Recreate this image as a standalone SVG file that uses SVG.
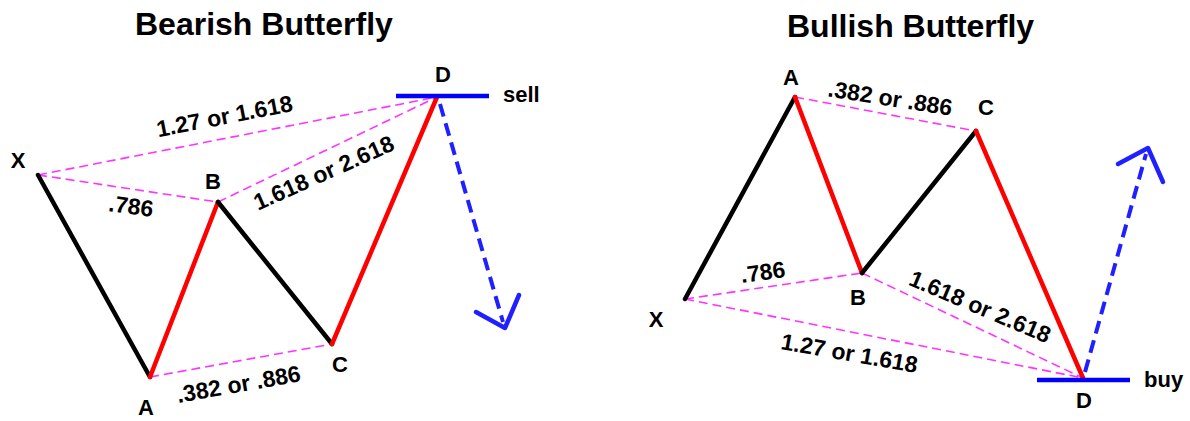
<svg xmlns="http://www.w3.org/2000/svg" width="1190" height="421" viewBox="0 0 1190 421">
<style>
text{font-family:"Liberation Sans",Arial,sans-serif;font-weight:bold;fill:#000}
.title{font-size:32px}
.lbl{font-size:22px;text-anchor:middle}
.ratio{font-size:23px;text-anchor:middle}
.side{font-size:22px}
.leg{fill:none;stroke-width:4.5;stroke-linecap:round;stroke-linejoin:round}
.blk{stroke:#000}
.red{stroke:#ff0000}
.fib{fill:none;stroke:#ff33ff;stroke-width:1.6;stroke-dasharray:9,5}
.lvl{fill:none;stroke:#0000ff;stroke-width:4.5}
.mv{fill:none;stroke:#1f1fff;stroke-width:4;stroke-dasharray:13,7}
.head{fill:none;stroke:#1f1fff;stroke-width:4.5;stroke-linecap:round;stroke-linejoin:round}
</style>
<rect width="1190" height="421" fill="#fff"/>
<g id="connectors">
<!-- bearish -->
<line class="fib" x1="38" y1="175" x2="437" y2="97"/>
<line class="fib" x1="38" y1="175" x2="218" y2="202"/>
<line class="fib" x1="218" y1="202" x2="437" y2="97"/>
<line class="fib" x1="150" y1="377" x2="332" y2="344"/>
<line class="leg blk" x1="38" y1="175" x2="150" y2="377"/>
<line class="leg red" x1="150" y1="377" x2="218" y2="202"/>
<line class="leg blk" x1="218" y1="202" x2="332" y2="344"/>
<line class="leg red" x1="332" y1="344" x2="437" y2="97"/>
<line class="mv" x1="440" y1="104" x2="503" y2="322"/>
<polyline class="head" points="476,312 505,328 519,295"/>
<!-- bullish -->
<line class="fib" x1="685" y1="299" x2="862" y2="273"/>
<line class="fib" x1="685" y1="299" x2="1083" y2="378"/>
<line class="fib" x1="862" y1="273" x2="1083" y2="378"/>
<line class="fib" x1="795" y1="97" x2="976" y2="131"/>
<line class="leg blk" x1="685" y1="299" x2="795" y2="97"/>
<line class="leg red" x1="795" y1="97" x2="862" y2="273"/>
<line class="leg blk" x1="862" y1="273" x2="976" y2="131"/>
<line class="leg red" x1="976" y1="131" x2="1083" y2="378"/>
<line class="mv" x1="1085" y1="372" x2="1146" y2="154"/>
<polyline class="head" points="1118,164 1148,148 1163,182"/>
</g>
<g id="title-bearish"><text class="title" x="135" y="35">Bearish Butterfly</text></g>
<g id="title-bullish"><text class="title" x="787" y="37">Bullish Butterfly</text></g>
<g id="bear-X"><text class="lbl" x="18" y="168">X</text></g>
<g id="bear-A"><text class="lbl" x="146" y="415">A</text></g>
<g id="bear-B"><text class="lbl" x="213" y="189">B</text></g>
<g id="bear-C"><text class="lbl" x="340" y="372">C</text></g>
<g id="bear-D"><line class="lvl" x1="396" y1="96" x2="489" y2="96"/><text class="lbl" x="443" y="82">D</text><text class="side" x="503" y="102">sell</text></g>
<g id="bear-ratios">
<text class="ratio" transform="translate(226,124) rotate(-11)">1.27 or 1.618</text>
<text class="ratio" transform="translate(327,180) rotate(-24)">1.618 or 2.618</text>
<text class="ratio" transform="translate(130,214) rotate(8)">.786</text>
<text class="ratio" transform="translate(240,392) rotate(-10)">.382 or .886</text>
</g>
<g id="bull-X"><text class="lbl" x="656" y="327">X</text></g>
<g id="bull-A"><text class="lbl" x="791" y="85">A</text></g>
<g id="bull-B"><text class="lbl" x="858" y="305">B</text></g>
<g id="bull-C"><text class="lbl" x="986" y="115">C</text></g>
<g id="bull-D"><line class="lvl" x1="1037" y1="380" x2="1130" y2="380"/><text class="lbl" x="1084" y="408">D</text><text class="side" x="1144" y="387">buy</text></g>
<g id="bull-ratios">
<text class="ratio" transform="translate(889,106) rotate(9)">.382 or .886</text>
<text class="ratio" transform="translate(764,280) rotate(-8)">.786</text>
<text class="ratio" transform="translate(848,361) rotate(10)">1.27 or 1.618</text>
<text class="ratio" transform="translate(977,314) rotate(23)">1.618 or 2.618</text>
</g>
</svg>
